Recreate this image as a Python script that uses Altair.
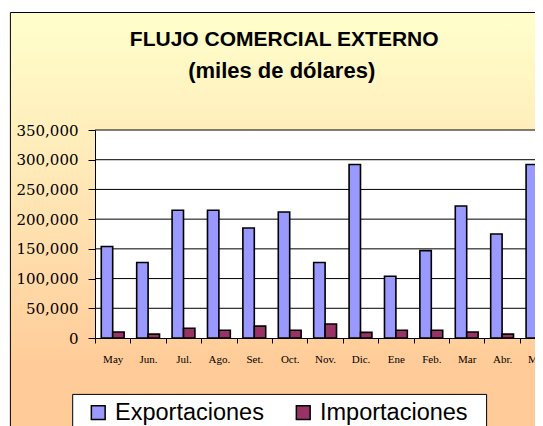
import altair as alt
import pandas as pd

# ---- data ----
months = ["May", "Jun.", "Jul.", "Ago.", "Set.", "Oct.", "Nov.", "Dic.",
          "Ene", "Feb.", "Mar", "Abr.", "May "]
exportaciones = [154000, 127000, 215000, 215000, 185000, 212000, 127000,
                 292000, 104000, 147000, 222000, 175000, 292000]
importaciones = [10000, 6500, 16500, 13000, 20000, 13000, 23500,
                 9500, 13000, 13000, 10000, 6500, 13000]
series = ["Exportaciones", "Importaciones"]
colors = ["#9999FF", "#993366"]
y_ticks = [0, 50000, 100000, 150000, 200000, 250000, 300000, 350000]
title_lines = ["FLUJO COMERCIAL EXTERNO", "(miles de dólares)"]

df = pd.DataFrame({
    "mes": months * 2,
    "serie": [series[0]] * len(months) + [series[1]] * len(months),
    "valor": exportaciones + importaciones,
})
grid_df = pd.DataFrame({"valor": y_ticks[1:]})
one = pd.DataFrame({"k": [0]})

W = 440           # visible plot width
FULL = 13 * 35.4  # full band range (plot continues past the window)
H = 208

y_scale = alt.Scale(domain=[0, 350000], nice=False, zero=True)
x_scale = alt.Scale(domain=months, range=[0, FULL], paddingInner=0, paddingOuter=0)

y_axis = alt.Axis(title=None, values=y_ticks, format=",d",
                  labelFont="DejaVu Serif", labelFontSize=15,
                  labelColor="black", tickColor="black", domainColor="black",
                  tickSize=7, labelPadding=10, grid=False, zindex=1)

gradient = {
    "gradient": "linear", "x1": 0, "y1": 0, "x2": 0, "y2": 1,
    "stops": [
        {"offset": 0, "color": "#FFFFCC"},
        {"offset": 0.45, "color": "#FFE4B2"},
        {"offset": 0.8, "color": "#FFCC99"},
        {"offset": 1, "color": "#FFCC99"},
    ],
}

bg = alt.Chart(one).mark_rect(fill=gradient, stroke="black", strokeWidth=1).encode(
    x=alt.value(-84.6), x2=alt.value(FULL + 20),
    y=alt.value(-117.5), y2=alt.value(320),
)

plot_bg = alt.Chart(one).mark_rect(fill="white").encode(
    x=alt.value(0), x2=alt.value(FULL + 20), y=alt.value(0), y2=alt.value(H),
)

grid = alt.Chart(grid_df).mark_rule(color="black", strokeWidth=1).encode(
    y=alt.Y("valor:Q", scale=y_scale, axis=y_axis),
    x=alt.value(0), x2=alt.value(FULL + 20),
)

bars = alt.Chart(df).mark_bar(stroke="black", strokeWidth=1.6).encode(
    x=alt.X("mes:N", sort=months, scale=x_scale,
            axis=alt.Axis(title=None, labelAngle=0, tickBand="extent",
                          labelFont="Liberation Serif", labelFontSize=11,
                          labelColor="black", tickColor="black", domainColor="black",
                          tickSize=5, labelPadding=10, grid=False, zindex=1)),
    xOffset=alt.XOffset("serie:N", sort=series,
                        scale=alt.Scale(paddingInner=0, paddingOuter=0.55)),
    y=alt.Y("valor:Q", scale=y_scale, axis=y_axis),
    color=alt.Color("serie:N", scale=alt.Scale(domain=series, range=colors),
                    legend=alt.Legend(title=None, orient="none", direction="horizontal",
                                      legendX=-8.5, legendY=270.5, padding=0,
                                      symbolType="square", symbolSize=190,
                                      symbolStrokeColor="black", symbolStrokeWidth=1.5,
                                      symbolOpacity=1,
                                      labelFont="Liberation Sans", labelFontSize=23.5,
                                      labelColor="black", labelOffset=5,
                                      columnPadding=27, labelLimit=400, zindex=1)),
)

legend_box = alt.Chart(one).mark_rect(fill="white", stroke="black", strokeWidth=1).encode(
    x=alt.value(-22.3), x2=alt.value(391.6), y=alt.value(264.4), y2=alt.value(330),
)

t1 = alt.Chart(one).mark_text(text=title_lines[0], font="Liberation Sans", fontSize=21,
                               fontWeight="bold", align="center", baseline="alphabetic",
                               color="black").encode(
    x=alt.value(284.2 - 95), y=alt.value(46.3 - 130))
t2 = alt.Chart(one).mark_text(text=title_lines[1], font="Liberation Sans", fontSize=22,
                               fontWeight="bold", align="center", baseline="alphabetic",
                               color="black").encode(
    x=alt.value(281.7 - 95), y=alt.value(78 - 130))

chart = alt.layer(bg, plot_bg, grid, bars, legend_box, t1, t2).properties(
    width=W, height=H,
    autosize=alt.AutoSizeParams(type="none"),
    padding={"left": 87, "top": 122, "right": 0, "bottom": 88},
).configure_view(stroke=None)

chart.save("out.html", embed_options={"renderer": "svg", "actions": False})
